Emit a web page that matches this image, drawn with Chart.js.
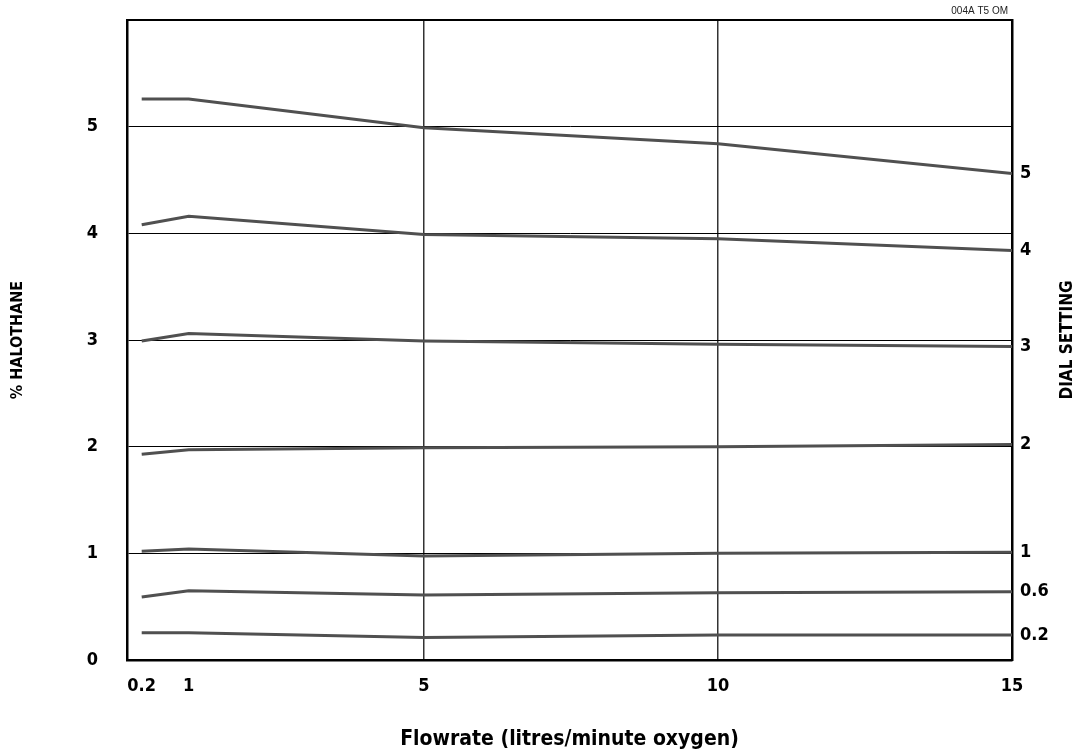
<!DOCTYPE html>
<html>
<head>
<meta charset="utf-8">
<script src="https://cdn.jsdelivr.net/npm/chart.js@4.4.1/dist/chart.umd.min.js"></script>
<style>
  html, body { margin: 0; padding: 0; background: #fff; }
</style>
</head>
<body>
<canvas id="chart" width="1083" height="752"></canvas>
<script>
// flowrate (litres/minute oxygen)
var flowrates = [0.2, 1, 5, 10, 15];
var xTickValues = [0.2, 1, 5, 10, 15];
var xGridValues = [5, 10];
var yTickValues = [0, 1, 2, 3, 4, 5];

// one curve per dial setting
var dialLabels = ['5', '4', '3', '2', '1', '0.6', '0.2'];

// % halothane delivered at each flowrate
var dial5  = [5.26, 5.26, 4.99, 4.84, 4.56];
var dial4  = [4.08, 4.16, 3.99, 3.95, 3.84];
var dial3  = [2.99, 3.06, 2.99, 2.96, 2.94];
var dial2  = [1.93, 1.97, 1.99, 2.00, 2.02];
var dial1  = [1.02, 1.04, 0.975, 1.00, 1.01];
var dial06 = [0.59, 0.65, 0.61, 0.63, 0.64];
var dial02 = [0.255, 0.255, 0.21, 0.235, 0.235];

var curves = [dial5, dial4, dial3, dial2, dial1, dial06, dial02];

var narrow = "'Liberation Sans Narrow', 'DejaVu Sans Condensed', sans-serif";
Chart.defaults.font.family = narrow;
Chart.defaults.color = '#000';

var datasets = curves.map(function (curve, i) {
    return {
        label: dialLabels[i],
        data: flowrates.map(function (f, j) { return { x: f, y: curve[j] }; }),
        borderColor: '#505050',
        borderWidth: 3,
        pointRadius: 0,
        tension: 0,
        fill: false,
        xAxisID: 'x',
        yAxisID: 'y'
    };
});

// end value of each curve, used for the dial setting axis
var endValues = curves.map(function (c) { return c[c.length - 1]; });

// fixed box sizes so the plot frame sits where the drawing has it
function fixWidth(w) {
    return function (s) {
        s.width = w;
        s.paddingTop = 0;
        s.paddingBottom = 0;
    };
}

// texts the axes can't place: rotated right title and drawing code, plus top edge of frame
var extraText = {
    id: 'extraText',
    afterDraw: function (chart) {
        var ctx = chart.ctx;
        var area = chart.chartArea;

        ctx.save();
        ctx.strokeStyle = '#000';
        ctx.lineWidth = 2;
        ctx.beginPath();
        ctx.moveTo(area.left, area.top);
        ctx.lineTo(area.right, area.top);
        ctx.stroke();
        ctx.restore();

        ctx.save();
        ctx.fillStyle = '#000';
        ctx.font = 'bold 17px ' + narrow;
        ctx.textAlign = 'center';
        ctx.textBaseline = 'middle';
        ctx.translate(1068, (area.top + area.bottom) / 2);
        ctx.rotate(-Math.PI / 2);
        ctx.fillText('DIAL SETTING', 0, 0);
        ctx.restore();

        ctx.save();
        ctx.fillStyle = '#222';
        ctx.font = "10px 'Liberation Sans', Arial, sans-serif";
        ctx.textAlign = 'right';
        ctx.textBaseline = 'middle';
        ctx.fillText('004A T5 OM', 1008, 11);
        ctx.restore();
    }
};

new Chart(document.getElementById('chart'), {
    type: 'line',
    data: { datasets: datasets },
    options: {
        responsive: false,
        animation: false,
        layout: { padding: { top: 20, left: 0, right: 0, bottom: 0 } },
        plugins: {
            legend: { display: false },
            tooltip: { enabled: false }
        },
        scales: {
            x: {
                type: 'linear',
                position: 'bottom',
                min: -0.05,
                max: 15,
                afterBuildTicks: function (s) {
                    s.ticks = xTickValues.map(function (v) { return { value: v }; });
                },
                afterFit: function (s) { s.height = 92; },
                grid: {
                    drawTicks: false,
                    lineWidth: 1.5,
                    color: function (c) {
                        return c.tick && xGridValues.indexOf(c.tick.value) >= 0 ? '#333' : 'rgba(0,0,0,0)';
                    }
                },
                border: { display: true, color: '#000', width: 2.5 },
                ticks: {
                    autoSkip: false,
                    maxRotation: 0,
                    padding: 16,
                    font: { size: 18, weight: 'bold' },
                    callback: function (v) { return String(v); }
                },
                title: {
                    display: true,
                    text: 'Flowrate (litres/minute oxygen)',
                    font: { size: 21, weight: 'bold' },
                    padding: { top: 0, bottom: 0 }
                }
            },
            y: {
                type: 'linear',
                position: 'left',
                min: 0,
                max: 6,
                afterBuildTicks: function (s) {
                    s.ticks = yTickValues.map(function (v) { return { value: v }; });
                },
                afterFit: fixWidth(127),
                grid: { drawTicks: false, lineWidth: 1, color: '#000' },
                border: { display: true, color: '#000', width: 2.5 },
                ticks: {
                    padding: 29,
                    font: { size: 18, weight: 'bold' }
                },
                title: {
                    display: true,
                    text: '% HALOTHANE',
                    font: { size: 16, weight: 'bold' },
                    padding: { top: 8, bottom: 0 }
                }
            },
            y2: {
                type: 'linear',
                position: 'right',
                min: 0,
                max: 6,
                afterBuildTicks: function (s) {
                    s.ticks = endValues.map(function (v) { return { value: v }; });
                },
                afterFit: fixWidth(71),
                grid: { display: false, drawTicks: false },
                border: { display: true, color: '#000', width: 2.5 },
                ticks: {
                    autoSkip: false,
                    padding: 8,
                    font: { size: 18, weight: 'bold' },
                    callback: function (v, i) { return dialLabels[i]; }
                }
            }
        }
    },
    plugins: [extraText]
});
</script>
</body>
</html>
